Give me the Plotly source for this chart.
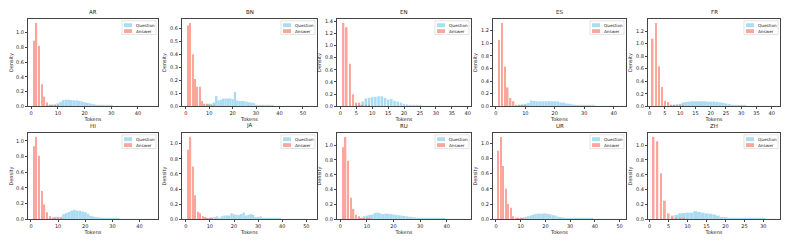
import plotly.graph_objects as go

# browser window size and the default page (body) margin of the written html
WIN_W, WIN_H = 793, 240
OFF = 8
W, H = WIN_W - OFF, WIN_H - OFF

LANGS = ["AR", "BN", "EN", "ES", "FR", "HI", "JA", "RU", "UR", "ZH"]

# ---- data: density per token bin (Question starts at *_Q_START, Answer starts at 1) ----
AR_Q_START = 6
AR_Q = [0.01, 0.015, 0.02, 0.025, 0.04, 0.06, 0.085, 0.09, 0.09, 0.085, 0.08, 0.08, 0.075, 0.065,
        0.055, 0.045, 0.04, 0.03, 0.025, 0.02, 0.015, 0.012, 0.01, 0.008, 0.007, 0.006, 0.006,
        0.005, 0.005, 0.004, 0.004, 0.003, 0.003, 0.003, 0.002, 0.002, 0.002, 0.002, 0.001, 0.001]
AR_A = [0.89, 1.13, 0.82, 0.30, 0.13, 0.05, 0.02, 0.02, 0.01, 0.01, 0.005, 0.005, 0.004, 0.003, 0.002]

BN_Q_START = 8
BN_Q = [0.01, 0.015, 0.02, 0.02, 0.03, 0.08, 0.045, 0.05, 0.06, 0.06, 0.06, 0.06, 0.055, 0.11,
        0.045, 0.04, 0.04, 0.04, 0.035, 0.03, 0.03, 0.025, 0.01, 0.008, 0.007, 0.006, 0.005,
        0.005, 0.004, 0.004, 0.003, 0.003, 0.003, 0.002, 0.002, 0.002, 0.001, 0.001, 0.001,
        0.001, 0.001, 0.001, 0.001, 0.001, 0.001, 0.001]
BN_A = [0.62, 0.64, 0.40, 0.21, 0.15, 0.15, 0.04, 0.02, 0.02, 0.01, 0.01, 0.005]

EN_Q_START = 5
EN_Q = [0.01, 0.02, 0.08, 0.13, 0.14, 0.15, 0.155, 0.165, 0.165, 0.14, 0.11, 0.12, 0.09, 0.075,
        0.06, 0.04, 0.03, 0.02, 0.015, 0.01, 0.008, 0.006, 0.005, 0.004, 0.003, 0.002, 0.002,
        0.001, 0.001, 0.001, 0.001, 0.001, 0.001, 0.001, 0.001, 0.001]
EN_A = [1.37, 1.30, 0.70, 0.20, 0.06, 0.06, 0.02, 0.01, 0.01]

ES_Q_START = 8
ES_Q = [0.02, 0.03, 0.035, 0.05, 0.09, 0.085, 0.08, 0.08, 0.08, 0.08, 0.08, 0.08, 0.08, 0.075,
        0.06, 0.06, 0.045, 0.04, 0.03, 0.025, 0.02, 0.015, 0.012, 0.01, 0.009, 0.008, 0.007,
        0.006, 0.005, 0.005, 0.004, 0.004, 0.003, 0.003, 0.002, 0.002, 0.002]
ES_A = [1.05, 1.32, 0.63, 0.30, 0.13, 0.08, 0.02, 0.02, 0.01, 0.01, 0.005]

FR_Q_START = 7
FR_Q = [0.01, 0.015, 0.03, 0.04, 0.06, 0.07, 0.075, 0.08, 0.08, 0.08, 0.08, 0.08, 0.075, 0.075,
        0.075, 0.07, 0.065, 0.055, 0.045, 0.035, 0.025, 0.02, 0.015, 0.01, 0.008, 0.006, 0.005,
        0.004, 0.003, 0.003, 0.002, 0.002, 0.001, 0.001]
FR_A = [1.08, 1.33, 0.64, 0.31, 0.09, 0.07, 0.02, 0.02, 0.02, 0.01, 0.01]

HI_Q_START = 7
HI_Q = [0.01, 0.02, 0.03, 0.03, 0.03, 0.065, 0.08, 0.095, 0.11, 0.12, 0.11, 0.11, 0.10, 0.09,
        0.07, 0.045, 0.035, 0.03, 0.025, 0.02, 0.015, 0.012, 0.01, 0.008, 0.008, 0.007, 0.006,
        0.006, 0.005, 0.005, 0.004, 0.004, 0.004, 0.003, 0.003, 0.003, 0.002, 0.002, 0.002]
HI_A = [0.93, 1.05, 0.81, 0.36, 0.19, 0.09, 0.04, 0.02, 0.02, 0.01, 0.01, 0.005]

JA_Q_START = 9
JA_Q = [0.01, 0.01, 0.02, 0.03, 0.04, 0.02, 0.04, 0.05, 0.05, 0.05, 0.08, 0.065, 0.06, 0.055,
        0.07, 0.09, 0.05, 0.06, 0.07, 0.06, 0.03, 0.03, 0.04, 0.02, 0.015, 0.012, 0.01, 0.009,
        0.008, 0.007, 0.007, 0.006, 0.006, 0.005, 0.005, 0.004, 0.004, 0.003, 0.003, 0.003,
        0.002, 0.002]
JA_A = [0.92, 1.09, 0.70, 0.32, 0.10, 0.08, 0.04, 0.03, 0.01, 0.01, 0.01, 0.005]

RU_Q_START = 7
RU_Q = [0.01, 0.02, 0.04, 0.05, 0.06, 0.065, 0.085, 0.09, 0.08, 0.07, 0.075, 0.075, 0.07, 0.065,
        0.06, 0.055, 0.05, 0.045, 0.04, 0.035, 0.03, 0.025, 0.02, 0.016, 0.014, 0.012, 0.011,
        0.01, 0.009, 0.008, 0.008, 0.007, 0.007, 0.006, 0.006, 0.005, 0.005, 0.004, 0.004,
        0.003, 0.003]
RU_A = [0.97, 1.11, 0.79, 0.29, 0.14, 0.06, 0.04, 0.02, 0.02, 0.01, 0.01, 0.005]

UR_Q_START = 9
UR_Q = [0.01, 0.015, 0.02, 0.03, 0.04, 0.05, 0.06, 0.07, 0.075, 0.075, 0.075, 0.08, 0.07, 0.065,
        0.055, 0.05, 0.035, 0.03, 0.025, 0.02, 0.018, 0.015, 0.013, 0.012, 0.011, 0.01, 0.01,
        0.009, 0.009, 0.008, 0.007, 0.006, 0.006, 0.005, 0.005, 0.005, 0.004, 0.004, 0.004,
        0.003, 0.003, 0.003]
UR_A = [0.90, 1.08, 0.70, 0.40, 0.20, 0.15, 0.04, 0.02, 0.02, 0.01, 0.01, 0.005]

ZH_Q_START = 6
ZH_Q = [0.02, 0.06, 0.08, 0.085, 0.09, 0.09, 0.11, 0.10, 0.09, 0.08, 0.075, 0.065, 0.05, 0.03,
        0.03, 0.02, 0.02, 0.015, 0.012, 0.01, 0.01, 0.009, 0.008, 0.008, 0.007, 0.006, 0.005,
        0.005]
ZH_A = [1.11, 1.05, 0.62, 0.25, 0.08, 0.05, 0.02, 0.01, 0.01, 0.005]

Q_DATA = {"AR": (AR_Q_START, AR_Q), "BN": (BN_Q_START, BN_Q), "EN": (EN_Q_START, EN_Q),
          "ES": (ES_Q_START, ES_Q), "FR": (FR_Q_START, FR_Q), "HI": (HI_Q_START, HI_Q),
          "JA": (JA_Q_START, JA_Q), "RU": (RU_Q_START, RU_Q), "UR": (UR_Q_START, UR_Q),
          "ZH": (ZH_Q_START, ZH_Q)}
A_DATA = {"AR": AR_A, "BN": BN_A, "EN": EN_A, "ES": ES_A, "FR": FR_A, "HI": HI_A,
          "JA": JA_A, "RU": RU_A, "UR": UR_A, "ZH": ZH_A}

# ---- layout / style (window pixels) ----
COLS_PX = [(28, 158), (182, 317), (337, 471), (493, 626), (648, 780)]
ROWS_PX = [(18, 107), (134, 222)]
X_RANGE = {"AR": (-1.2, 47.5), "BN": (-1.6, 56), "EN": (-1.05, 41), "ES": (-1.0, 44.2),
           "FR": (-0.55, 42.7), "HI": (-1.1, 46.8), "JA": (-1.55, 54.4), "RU": (-1.25, 49.1),
           "UR": (-1.2, 52.6), "ZH": (-0.45, 34.4)}
X_DTICK = {"AR": 10, "BN": 10, "EN": 5, "ES": 10, "FR": 5, "HI": 10, "JA": 10, "RU": 10,
           "UR": 10, "ZH": 5}
Y_DTICK = {"BN": 0.1}
Q_WIDTH = {"EN": 0.8}

Q_COLOR = "#87CEEB"
A_COLOR = "#FA8072"
FONT = "DejaVu Sans"
AX_COLOR = "#444444"


def px(x):
    return (x - OFF) / W


def py(y):
    return 1 - (y - OFF) / H


fig = go.Figure()
layout = dict(width=W, height=H, margin=dict(l=0, r=0, t=0, b=0), barmode="overlay",
              plot_bgcolor="white", paper_bgcolor="white", showlegend=False,
              font=dict(family=FONT, size=5, color="#222"))
shapes, annotations = [], []

for i, lang in enumerate(LANGS):
    r, c = divmod(i, 5)
    x0p, x1p = COLS_PX[c]
    t, b = ROWS_PX[r]
    n = i + 1
    xa = "x" if n == 1 else f"x{n}"
    ya = "y" if n == 1 else f"y{n}"
    q_start, q_vals = Q_DATA[lang]
    a_vals = A_DATA[lang]
    fig.add_trace(go.Bar(x=list(range(q_start, q_start + len(q_vals))), y=q_vals,
                         width=Q_WIDTH.get(lang, 1.0), name="Question",
                         marker=dict(color=Q_COLOR, line=dict(width=0)), opacity=0.7,
                         xaxis=xa, yaxis=ya))
    fig.add_trace(go.Bar(x=list(range(1, 1 + len(a_vals))), y=a_vals, width=0.5,
                         name="Answer", marker=dict(color=A_COLOR, line=dict(width=0)),
                         opacity=0.7, xaxis=xa, yaxis=ya))
    ymax = max(max(a_vals), max(q_vals)) * 1.05
    axis_common = dict(showline=True, mirror=True, linecolor=AX_COLOR, linewidth=1,
                       ticks="outside", ticklen=2, tickwidth=0.6, tickcolor=AX_COLOR,
                       showgrid=False, zeroline=False,
                       tickfont=dict(size=5, family=FONT, color="#222"),
                       title_font=dict(size=5, family=FONT, color="#222"))
    layout["xaxis" if n == 1 else f"xaxis{n}"] = dict(
        axis_common, domain=[px(x0p), px(x1p)], anchor=ya, range=list(X_RANGE[lang]),
        dtick=X_DTICK[lang], tick0=0, title=dict(text="Tokens", standoff=1))
    layout["yaxis" if n == 1 else f"yaxis{n}"] = dict(
        axis_common, domain=[py(b), py(t)], anchor=xa, range=[0, ymax],
        dtick=Y_DTICK.get(lang, 0.2), tick0=0, tickformat=".1f",
        title=dict(text="Density", standoff=3))
    # subplot title
    annotations.append(dict(text=lang, x=px((x0p + x1p) / 2), y=py(t - 1.5),
                            xref="paper", yref="paper", xanchor="center", yanchor="bottom",
                            showarrow=False, font=dict(size=5.5, family=FONT, color="#222")))
    # legend box (top-right inside each panel)
    R = x1p
    shapes.append(dict(type="rect", xref="paper", yref="paper",
                       x0=px(R - 36), x1=px(R - 2), y0=py(t + 16), y1=py(t + 2),
                       fillcolor="rgba(255,255,255,0.8)", line=dict(color="#d0d0d0", width=0.6)))
    for k, (label, col) in enumerate([("Question", Q_COLOR), ("Answer", A_COLOR)]):
        cy = t + 6.5 + 6 * k
        shapes.append(dict(type="rect", xref="paper", yref="paper",
                           x0=px(R - 34), x1=px(R - 26), y0=py(cy + 2), y1=py(cy - 2),
                           fillcolor=col, opacity=0.7, line=dict(width=0)))
        annotations.append(dict(text=label, x=px(R - 24.5), y=py(cy), xref="paper",
                                yref="paper", xanchor="left", yanchor="middle",
                                showarrow=False, font=dict(size=4.2, family=FONT, color="#222")))

layout["shapes"] = shapes
layout["annotations"] = annotations
fig.update_layout(**layout)
fig.write_html("out.html")
